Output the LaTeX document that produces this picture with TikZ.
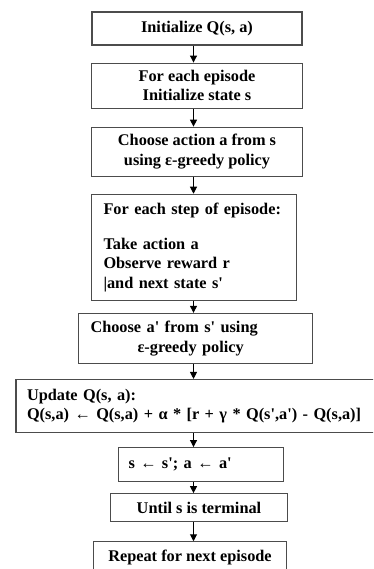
\documentclass[tikz,border=0pt]{standalone}
\usepackage{xcolor}
\usepackage{fontspec}
\setmainfont{Liberation Serif}[Ligatures=TeXOff]
\usepackage{tikz}
\usetikzlibrary{positioning,arrows.meta}

\begin{document}
\begin{tikzpicture}[
    x=1pt, y=-1pt,
    node distance=15pt,
    stage/.style={rectangle, draw=black!70, line width=1.1pt, align=center, inner sep=3pt,
        font=\fontsize{16.3pt}{19.5pt}\selectfont\bfseries},
    flow/.style={draw=black, line width=1pt, -{Triangle[length=7pt,width=7pt]}}
]
\useasboundingbox (0,0) rectangle (373,569);
\clip (0,0) rectangle (373,569);

\coordinate (spine) at (193.5,0);

\node[stage, minimum width=210pt, minimum height=33pt] (init) at (197,28.5) {Initialize Q(s, a)};
\node[stage, below=17pt of init, minimum width=211pt, minimum height=45pt] (episode) {For each episode\\Initialize state s};
\node[stage, below=18pt of episode, minimum width=211pt, minimum height=49pt] (choose) {Choose action a from s\\using ε-greedy policy};
\node[stage, below=17pt of choose, xshift=-3pt, align=left, inner xsep=12pt, text width=181pt, minimum height=106pt] (step) {For each step of episode:\\[15pt]Take action a\\Observe reward r\\|and next state s'};
\node[stage, below=12pt of step, xshift=1.5pt, align=left, inner xsep=12pt, text width=210pt, minimum height=50pt] (choosenext) {Choose a' from s' using\\\hspace*{47pt}ε-greedy policy};
\node[stage, below=15pt of choosenext, xshift=11.5pt, align=left, inner xsep=11pt, text width=360pt, minimum height=53pt] (update) {Update Q(s, a):\\Q(s,a) ← Q(s,a) + α * [r + γ * Q(s',a') - Q(s,a)]};
\node[stage, below=14pt of update, xshift=-6pt, align=left, inner xsep=10pt, text width=145pt, minimum height=34pt] (swap) {s ← s'; a ← a'};
\node[stage, below=11pt of swap, xshift=-2pt, minimum width=177pt, minimum height=28pt] (until) {Until s is terminal};
\node[stage, below=19pt of until, xshift=-9pt, minimum width=193pt, inner ysep=4pt, text height=16pt, text depth=26pt] (repeat) {Repeat for next episode};

\draw[flow] (init.south -| spine) -- (episode.north -| spine);
\draw[flow] (episode.south -| spine) -- (choose.north -| spine);
\draw[flow] (choose.south -| spine) -- (step.north -| spine);
\draw[flow] (step.south -| spine) -- (choosenext.north -| spine);
\draw[flow] (choosenext.south -| spine) -- (update.north -| spine);
\draw[flow] (update.south -| spine) -- (swap.north -| spine);
\draw[flow] (swap.south -| spine) -- (until.north -| spine);
\draw[flow] (until.south -| spine) -- (repeat.north -| spine);

\end{tikzpicture}
\end{document}
